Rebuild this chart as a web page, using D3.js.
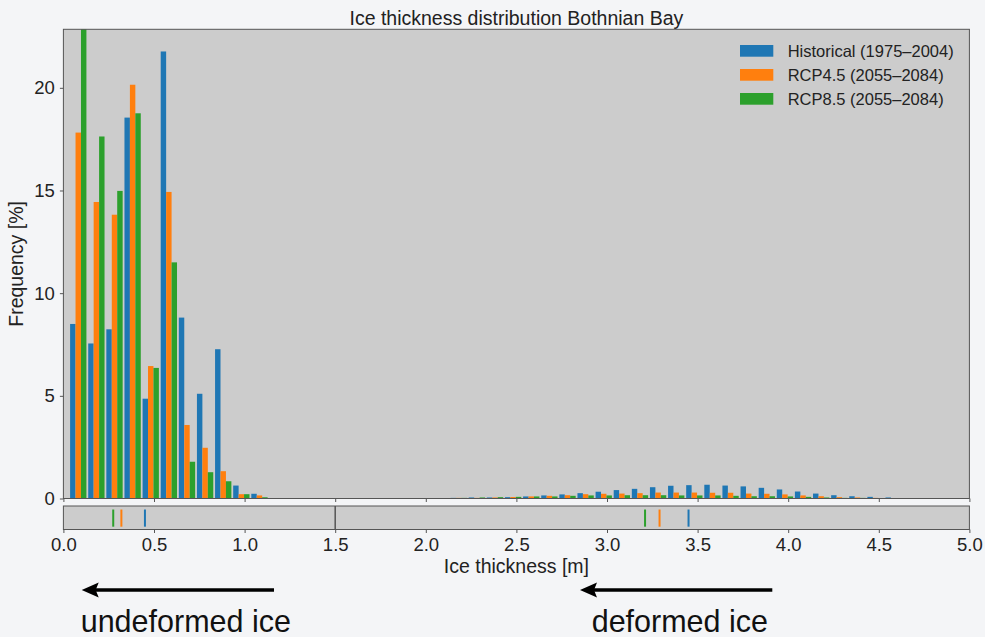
<!DOCTYPE html>
<html>
<head>
<meta charset="utf-8">
<script src="https://cdn.jsdelivr.net/npm/d3@7"></script>
<style>
  html, body { margin: 0; padding: 0; background: #f4f5f7; }
  svg { display: block; font-family: "Liberation Sans", Arial, sans-serif; }
</style>
</head>
<body>
<svg id="chart" width="985" height="637"></svg>
<script>
// ---------- data ----------
// centres of the 0.1 m thickness bins
const binCenters = [0.082,0.182,0.282,0.382,0.482,0.582,0.682,0.782,0.882,0.982,
  1.082,1.182,1.282,1.382,1.482,1.582,1.682,1.782,1.882,1.982,
  2.082,2.182,2.282,2.382,2.482,2.582,2.682,2.782,2.882,2.982,
  3.082,3.182,3.282,3.382,3.482,3.582,3.682,3.782,3.882,3.982,
  4.082,4.182,4.282,4.382,4.482,4.582];
const binWidth = 0.1;

const seriesNames = ["Historical (1975\u20132004)", "RCP4.5 (2055\u20132084)", "RCP8.5 (2055\u20132084)"];
const seriesColors = ["#1f77b4", "#ff7f0e", "#2ca02c"];

const historical = [8.5,7.55,8.24,18.55,4.86,21.77,8.81,5.1,7.27,0.63,
  0.23,0,0,0,0,0,0,0,0,0.01,
  0.01,0.03,0.05,0.05,0.065,0.1,0.15,0.2,0.26,0.33,
  0.41,0.47,0.55,0.62,0.65,0.67,0.63,0.59,0.52,0.44,
  0.34,0.24,0.16,0.11,0.08,0.05];
const rcp45 = [17.82,14.44,13.82,20.15,6.45,14.93,3.58,2.47,1.33,0.21,
  0.15,0,0,0,0,0,0,0,0,0.01,
  0.01,0.03,0.03,0.05,0.07,0.1,0.13,0.16,0.21,0.23,
  0.24,0.26,0.29,0.29,0.29,0.28,0.28,0.24,0.23,0.2,
  0.15,0.11,0.065,0.05,0.03,0.02];
const rcp85 = [23.5,17.63,14.98,18.76,6.36,11.5,1.79,1.28,0.84,0.21,
  0.06,0,0,0,0,0,0,0,0,0.01,
  0.01,0.03,0.05,0.065,0.08,0.1,0.1,0.13,0.15,0.15,
  0.16,0.16,0.16,0.15,0.15,0.15,0.13,0.11,0.11,0.1,
  0.08,0.05,0.03,0.03,0.02,0.02];
const seriesValues = [historical, rcp45, rcp85];

// mean thickness markers: [undeformed, deformed] for each series
const meanUndeformed = [0.45, 0.32, 0.275];
const meanDeformed = [3.45, 3.29, 3.21];
const separator = 1.5;

const xTicks = [0,0.5,1,1.5,2,2.5,3,3.5,4,4.5,5];
const yTicks = [0,5,10,15,20];

// ---------- layout ----------
const svg = d3.select("#chart");
const L = 63.4, R = 969.4, T = 29.3, B = 498.5;
const sT = 506, sB = 529.5;
const x = d3.scaleLinear().domain([0, 5]).range([L, R]);
const y = d3.scaleLinear().domain([0, 22.85]).range([B, T]);
const sy = d3.scaleLinear().domain([0, 1]).range([sB, sT]);

const txt = "#222";
const spine = "#555";

// title
svg.append("text").attr("x", (L + R) / 2).attr("y", 25).attr("text-anchor", "middle")
  .attr("font-size", 19.5).attr("fill", txt).text("Ice thickness distribution Bothnian Bay");

// main plot background
svg.append("rect").attr("x", L).attr("y", T).attr("width", R - L).attr("height", B - T).attr("fill", "#cccccc");

svg.append("clipPath").attr("id", "clipMain").append("rect")
  .attr("x", L).attr("y", T).attr("width", R - L).attr("height", B - T);

const rw = 0.9; // relative width of a bar group
const barW = binWidth * rw / 3;
const gBars = svg.append("g").attr("clip-path", "url(#clipMain)");
seriesValues.forEach((vals, i) => {
  gBars.append("g").selectAll("rect").data(vals.map((v, k) => ({ v, c: binCenters[k] })))
    .join("rect")
    .attr("x", d => x(d.c - binWidth * rw / 2 + i * barW))
    .attr("width", d => x(barW) - x(0))
    .attr("y", d => y(d.v))
    .attr("height", d => y(0) - y(d.v))
    .attr("fill", seriesColors[i]);
});

// main axes
const yAxis = svg.append("g").attr("transform", `translate(${L},0)`)
  .call(d3.axisLeft(y).tickValues(yTicks).tickSize(3.5).tickPadding(5).tickFormat(d3.format("d")));
yAxis.select(".domain").remove();
yAxis.selectAll("line").attr("stroke", spine);
yAxis.selectAll("text").attr("font-size", 18.5).attr("fill", txt).attr("font-family", "Liberation Sans, Arial, sans-serif");

const xAxisMain = svg.append("g").attr("transform", `translate(0,${B})`)
  .call(d3.axisBottom(x).tickValues(xTicks).tickSize(3.5).tickFormat(""));
xAxisMain.select(".domain").remove();
xAxisMain.selectAll("line").attr("stroke", spine);

svg.append("rect").attr("x", L).attr("y", T).attr("width", R - L).attr("height", B - T)
  .attr("fill", "none").attr("stroke", spine).attr("stroke-width", 1);

// y label
svg.append("text").attr("transform", `translate(23,${(T + B) / 2}) rotate(-90)`)
  .attr("text-anchor", "middle").attr("font-size", 19.5).attr("fill", txt).text("Frequency [%]");

// legend
const lg = svg.append("g");
seriesNames.forEach((n, i) => {
  lg.append("rect").attr("x", 740).attr("y", 45 + i * 24).attr("width", 33.3).attr("height", 11.7)
    .attr("fill", seriesColors[i]);
  lg.append("text").attr("x", 787.7).attr("y", 56.7 + i * 24).attr("font-size", 16.5).attr("fill", txt).text(n);
});

// ---------- strip with mean markers ----------
svg.append("rect").attr("x", L).attr("y", sT).attr("width", R - L).attr("height", sB - sT).attr("fill", "#cccccc");
svg.append("line").attr("x1", x(separator)).attr("x2", x(separator)).attr("y1", sy(0)).attr("y2", sy(1))
  .attr("stroke", "#555").attr("stroke-width", 1.5);
[meanUndeformed, meanDeformed].forEach(arr => {
  arr.forEach((m, i) => {
    svg.append("line").attr("x1", x(m)).attr("x2", x(m)).attr("y1", sy(0.12)).attr("y2", sy(0.85))
      .attr("stroke", seriesColors[i]).attr("stroke-width", 2);
  });
});
svg.append("rect").attr("x", L).attr("y", sT).attr("width", R - L).attr("height", sB - sT)
  .attr("fill", "none").attr("stroke", spine).attr("stroke-width", 1);

const xAxis = svg.append("g").attr("transform", `translate(0,${sB})`)
  .call(d3.axisBottom(x).tickValues(xTicks).tickSize(3.5).tickPadding(4.5).tickFormat(d3.format(".1f")));
xAxis.select(".domain").remove();
xAxis.selectAll("line").attr("stroke", spine);
xAxis.selectAll("text").attr("font-size", 18.5).attr("fill", txt).attr("font-family", "Liberation Sans, Arial, sans-serif");

svg.append("text").attr("x", (L + R) / 2).attr("y", 573).attr("text-anchor", "middle")
  .attr("font-size", 19.5).attr("fill", txt).text("Ice thickness [m]");

// ---------- annotations ----------
function arrow(x1, x2, yy) {
  svg.append("line").attr("x1", x1 + 12).attr("x2", x2).attr("y1", yy).attr("y2", yy)
    .attr("stroke", "#000").attr("stroke-width", 3.5);
  svg.append("path")
    .attr("d", `M${x1},${yy} L${x1 + 17},${yy - 7.5} L${x1 + 14},${yy} L${x1 + 17},${yy + 7.5} Z`)
    .attr("fill", "#000");
}
arrow(81.7, 274, 590);
arrow(580, 772.3, 590);
svg.append("text").attr("x", 80.7).attr("y", 632).attr("font-size", 30.5).attr("fill", "#111").text("undeformed ice");
svg.append("text").attr("x", 591.7).attr("y", 632).attr("font-size", 30.5).attr("fill", "#111").text("deformed ice");
</script>
</body>
</html>
